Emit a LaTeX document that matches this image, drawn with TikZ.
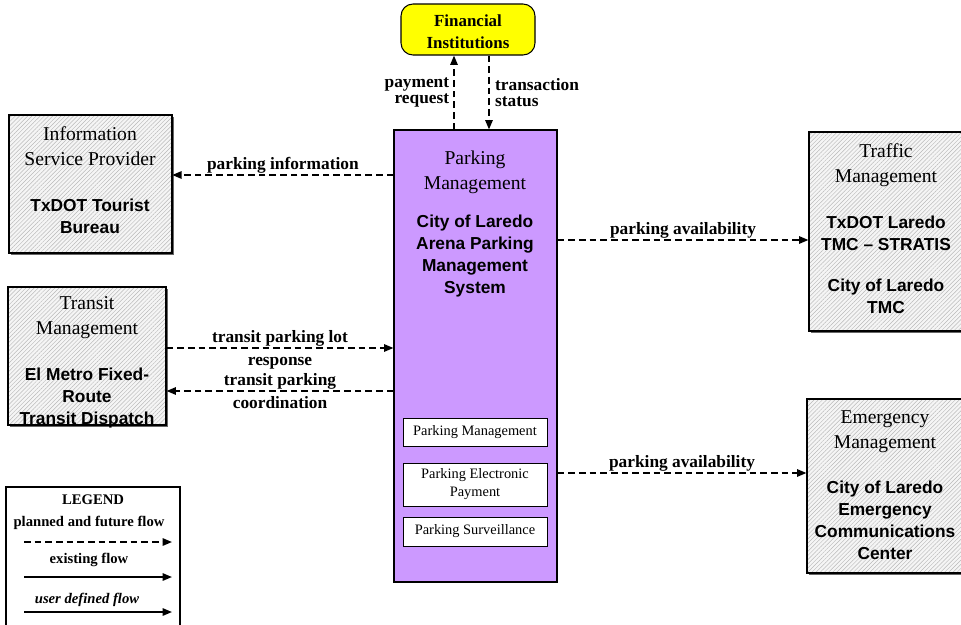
\documentclass[tikz,border=0pt]{standalone}
\usepackage{fontspec}
\setmainfont{Liberation Serif}
\newfontfamily\arialfont{Liberation Sans}
\usepackage{xcolor}
\usepackage{tikz}
\usetikzlibrary{arrows.meta,fit,shadows,patterns.meta}

\definecolor{parkPurple}{RGB}{204,153,255}
\definecolor{finYellow}{RGB}{255,255,0}

\begin{document}
\begin{tikzpicture}[x=0.75pt, y=-0.75pt,
                    extBox/.style={draw, line width=0.8pt, inner sep=0pt,
                        drop shadow={shadow xshift=1.2pt, shadow yshift=-1.2pt, fill=black!60, opacity=1},
                        preaction={fill=gray!8},
                        pattern={Lines[angle=45, distance=2.2pt, line width=0.35pt]},
                        pattern color=gray!55},
                    subBox/.style={draw, line width=0.6pt, fill=white, inner sep=0pt,
                        font=\fontsize{10.8}{13.5}\selectfont, align=center},
                    titleText/.style={font=\fontsize{14.7}{18.75}\selectfont, align=center, inner sep=0pt},
                    nameText/.style={font=\arialfont\bfseries\fontsize{13}{16.5}\selectfont, align=center, inner sep=0pt},
                    flowLabel/.style={font=\bfseries\fontsize{13}{12}\selectfont, align=center, inner sep=0.5pt},
                    legendText/.style={font=\bfseries\fontsize{11}{12}\selectfont, align=center, inner sep=0pt},
                    flow/.style={line width=1.3pt, -{Triangle[length=7pt, width=5.5pt]}},
                    plannedFlow/.style={flow, dash pattern=on 5pt off 3pt}
                   ]
  \clip (0,0) rectangle (961,625);

  % terminators
  \node[draw, line width=0.8pt, fill=finYellow, rounded corners=9pt, inner sep=0pt,
        fit={(401,4) (535,55)}] (finInst) {};
  \node[font=\bfseries\fontsize{12.7}{16.5}\selectfont, align=center] (finText) at ([yshift=-1.5pt]finInst.center) {Financial\\Institutions};

  \node[extBox, fit={(9,115) (172,253)}] (infoProv) {};
  \node[titleText] (infoTitle) at (90,146) {Information\\Service Provider};
  \node[nameText] (infoName) at (90,216) {TxDOT Tourist\\Bureau};

  \node[extBox, fit={(8,287) (166,425)}] (transitMgmt) {};
  \node[titleText] (transitTitle) at (87,318) {Transit\\Management};
  \node[nameText] (transitName) at (87,398) {El Metro Fixed-\\Route\\Transit Dispatch};

  \node[extBox, fit={(809,132) (980,331)}] (trafficMgmt) {};
  \node[titleText] (trafficTitle) at (886,165) {Traffic\\Management};
  \node[nameText] (trafficName) at (886,233) {TxDOT Laredo\\TMC – STRATIS};
  \node[nameText] (trafficNameB) at (886,296) {City of Laredo\\TMC};

  \node[extBox, fit={(807,399) (980,573)}] (emergMgmt) {};
  \node[titleText] (emergTitle) at (885,432) {Emergency\\Management};
  \node[nameText] (emergName) at (885,520) {City of Laredo\\Emergency\\Communications\\Center};

  % subsystem
  \node[draw, line width=0.8pt, fill=parkPurple, inner sep=0pt,
        drop shadow={shadow xshift=1pt, shadow yshift=-1pt, fill=black!60, opacity=1},
        fit={(394,130) (557,582)}] (parkMgmt) {};
  \node[titleText] (parkTitle) at (475,172) {Parking\\Management};
  \node[nameText] (parkName) at (475,256) {City of Laredo\\Arena Parking\\Management\\System};
  \node[subBox, minimum width=108pt, minimum height=21pt] (pmSubA) at (475,432) {Parking Management};
  \node[subBox, minimum width=108pt, minimum height=32.25pt] (pmSubB) at (475,484.5) {Parking Electronic\\Payment};
  \node[subBox, minimum width=108pt, minimum height=21.75pt] (pmSubC) at (475,531.5) {Parking Surveillance};

  % flows
  \draw[plannedFlow] (parkMgmt.north -| 454,0) -- (finInst.south -| 454,0)
    node[flowLabel, align=right, midway, left, xshift=-2.5pt] {payment\\request};
  \draw[plannedFlow] (finInst.south -| 489,0) -- (parkMgmt.north -| 489,0)
    node[flowLabel, align=left, midway, right, xshift=3.5pt] {transaction\\status};
  \draw[plannedFlow] (parkMgmt.west |- 0,175) -- (infoProv.east |- 0,175)
    node[flowLabel, midway, above] {parking information};
  \draw[plannedFlow] (transitMgmt.east |- 0,348) -- (parkMgmt.west |- 0,348)
    node[flowLabel, midway, above] {transit parking lot}
    node[flowLabel, text height=9pt, midway, below=3pt] {response};
  \draw[plannedFlow] (parkMgmt.west |- 0,391) -- (transitMgmt.east |- 0,391)
    node[flowLabel, midway, above] {transit parking}
    node[flowLabel, text height=9pt, midway, below=3pt] {coordination};
  \draw[plannedFlow] (parkMgmt.east |- 0,240) -- (trafficMgmt.west |- 0,240)
    node[flowLabel, midway, above] {parking availability};
  \draw[plannedFlow] (parkMgmt.east |- 0,473) -- (emergMgmt.west |- 0,473)
    node[flowLabel, midway, above] {parking availability};

  % legend
  \node[draw, line width=0.8pt, fill=white, inner sep=0pt, fit={(6,487) (180,650)}] (legendBox) {};
  \node[legendText] (legendTitle) at (93,500) {LEGEND};
  \node[legendText] (legendPlanned) at (89,523) {planned and future flow};
  \coordinate (plannedStart) at (24,542);
  \coordinate (plannedEnd) at (172,542);
  \draw[plannedFlow] (plannedStart) -- (plannedEnd);
  \node[legendText] (legendExisting) at (89,560) {existing flow};
  \coordinate (existingStart) at (24,577);
  \coordinate (existingEnd) at (172,577);
  \draw[flow] (existingStart) -- (existingEnd);
  \node[legendText, font=\bfseries\itshape\fontsize{11}{12}\selectfont] (legendUser) at (87,600) {user defined flow};
  \coordinate (userStart) at (24,612);
  \coordinate (userEnd) at (172,612);
  \draw[flow] (userStart) -- (userEnd);
\end{tikzpicture}
\end{document}
